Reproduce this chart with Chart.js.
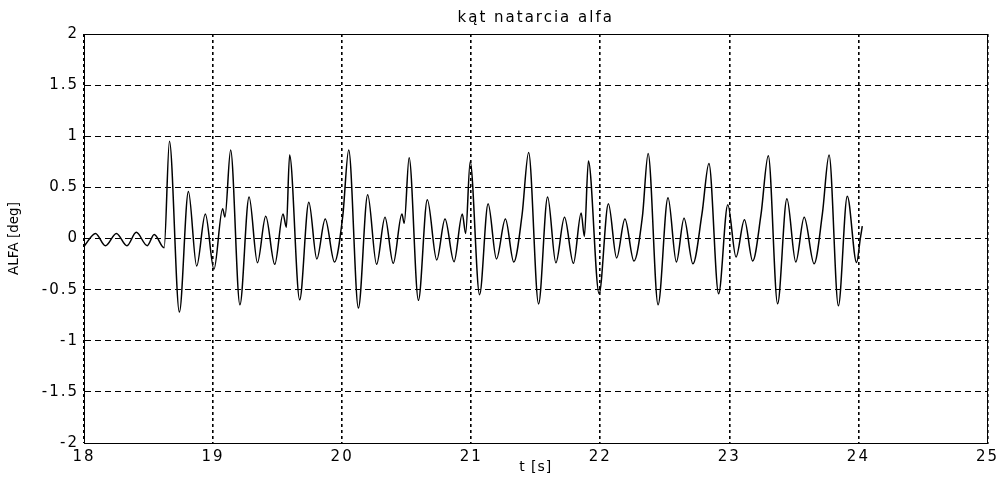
<!DOCTYPE html>
<html>
<head>
<meta charset="utf-8">
<script src="https://cdn.jsdelivr.net/npm/chart.js@4"></script>
<style>
html,body{margin:0;padding:0;background:#fff;overflow:hidden}
canvas{display:block}
</style>
</head>
<body>
<canvas id="c" width="1004" height="483"></canvas>
<script>
// ---- data (local extrema of the trace) ----
const timeValues = [
  18.004, 18.089, 18.166, 18.251, 18.333, 18.405, 18.490, 18.544, 18.621, 18.662,
  18.739, 18.809, 18.873, 18.940, 19.007, 19.074, 19.092, 19.136, 19.208, 19.279,
  19.344, 19.408, 19.478, 19.542, 19.568, 19.593, 19.671, 19.742, 19.804, 19.869,
  19.941, 20.005, 20.051, 20.126, 20.198, 20.267, 20.332, 20.396, 20.463, 20.481,
  20.519, 20.591, 20.660, 20.733, 20.797, 20.867, 20.931, 20.957, 20.992, 21.065,
  21.131, 21.196, 21.265, 21.330, 21.394, 21.445, 21.522, 21.592, 21.656, 21.723,
  21.792, 21.852, 21.877, 21.908, 21.991, 22.063, 22.127, 22.191, 22.261, 22.327,
  22.371, 22.448, 22.525, 22.590, 22.649, 22.718, 22.788, 22.842, 22.917, 22.988,
  23.052, 23.117, 23.181, 23.245, 23.302, 23.374, 23.446, 23.515, 23.580, 23.657,
  23.721, 23.773, 23.845, 23.914, 23.986, 24.015, 24.030
];
const alfaValues = [
  -0.07, 0.05, -0.07, 0.05, -0.07, 0.06, -0.07, 0.04, -0.09, 0.95,
  -0.72, 0.46, -0.27, 0.24, -0.30, 0.29, 0.21, 0.865, -0.648, 0.405,
  -0.237, 0.217, -0.253, 0.24, 0.11, 0.816, -0.60, 0.355, -0.20, 0.19,
  -0.23, 0.22, 0.865, -0.68, 0.428, -0.253, 0.207, -0.243, 0.24, 0.15,
  0.79, -0.605, 0.378, -0.21, 0.19, -0.227, 0.24, 0.05, 0.75, -0.55,
  0.34, -0.20, 0.19, -0.23, 0.23, 0.84, -0.64, 0.405, -0.237, 0.207,
  -0.243, 0.25, 0.02, 0.757, -0.54, 0.34, -0.19, 0.19, -0.22, 0.22,
  0.832, -0.648, 0.398, -0.23, 0.197, -0.247, 0.24, 0.733, -0.54, 0.33,
  -0.18, 0.184, -0.22, 0.23, 0.81, -0.638, 0.388, -0.23, 0.207, -0.247,
  0.24, 0.816, -0.658, 0.414, -0.235, 0.0, 0.12
];
const xTicks = [18, 19, 20, 21, 22, 23, 24, 25];
const yTicks = [-2, -1.5, -1, -0.5, 0, 0.5, 1, 1.5, 2];

const chartTitle = 'kąt natarcia alfa';
const xTitle = 't [s]';
const yTitle = 'ALFA [deg]';

// ---- rendering ----
Chart.defaults.font.family = "'DejaVu Sans', 'Liberation Sans', Arial, sans-serif";
Chart.defaults.color = '#000';

const points = timeValues.map((t, i) => ({ x: t, y: alfaValues[i] }));

function patchTitle(scale, spacing) {
  if (!scale || scale._patchedTitle) return;
  const orig = scale.drawTitle;
  scale.drawTitle = function () {
    const c = this.ctx; const prev = c.letterSpacing;
    c.letterSpacing = spacing; orig.call(this); c.letterSpacing = prev;
  };
  scale._patchedTitle = true;
}

const matlabLook = {
  id: 'matlabLook',
  beforeLayout(chart) { chart.ctx.letterSpacing = '2px'; },
  beforeDraw(chart) {
    chart.ctx.letterSpacing = '2px';
    patchTitle(chart.scales.y, '0px');
    patchTitle(chart.scales.x, '1px');
  },
  afterDraw(chart) {
    const { ctx, chartArea: a } = chart;
    ctx.save();
    ctx.strokeStyle = '#000';
    ctx.lineWidth = 1;
    ctx.setLineDash([]);
    ctx.strokeRect(Math.round(a.left) + 0.5, Math.round(a.top) + 0.5,
                   Math.round(a.right - a.left), Math.round(a.bottom - a.top));
    ctx.restore();
  }
};

new Chart(document.getElementById('c'), {
  type: 'line',
  data: {
    datasets: [{
      data: points,
      borderColor: '#000',
      borderWidth: 1.5,
      pointRadius: 0,
      fill: false,
      cubicInterpolationMode: 'monotone'
    }]
  },
  options: {
    responsive: false,
    animation: false,
    events: [],
    layout: { padding: { left: 0, right: 13, top: 0, bottom: 0 } },
    plugins: {
      legend: { display: false },
      tooltip: { enabled: false },
      title: {
        display: true,
        fullSize: false,
        text: chartTitle,
        color: '#000',
        font: { size: 15, weight: 'normal' },
        padding: { top: 9, bottom: 7 }
      }
    },
    scales: {
      x: {
        type: 'linear',
        min: 18, max: 25,
        afterBuildTicks: s => { s.ticks = xTicks.map(v => ({ value: v })); },
        afterFit: s => { s.height = 40; },
        ticks: { autoSkip: false, maxRotation: 0, padding: 5, font: { size: 15 }, color: '#000',
                 callback: v => String(v) },
        grid: { color: '#000', lineWidth: 1.6, drawTicks: false },
        border: { display: true, color: '#000', width: 1, dash: [3, 3] },
        title: { display: true, text: xTitle, font: { size: 14 }, color: '#000', padding: { top: 0, bottom: 7 } }
      },
      y: {
        type: 'linear',
        min: -2, max: 2,
        afterBuildTicks: s => { s.ticks = yTicks.map(v => ({ value: v })); },
        afterFit: s => { s.width = 84; },
        ticks: { autoSkip: false, padding: 5, font: { size: 15 }, color: '#000',
                 callback: v => String(v) },
        grid: { color: '#000', lineWidth: 1, drawTicks: false },
        border: { display: true, color: '#000', width: 1, dash: [6, 4] },
        title: { display: true, text: yTitle, font: { size: 13.5 }, color: '#000', padding: { top: 6, bottom: 0 } }
      }
    }
  },
  plugins: [matlabLook]
});
</script>
</body>
</html>
